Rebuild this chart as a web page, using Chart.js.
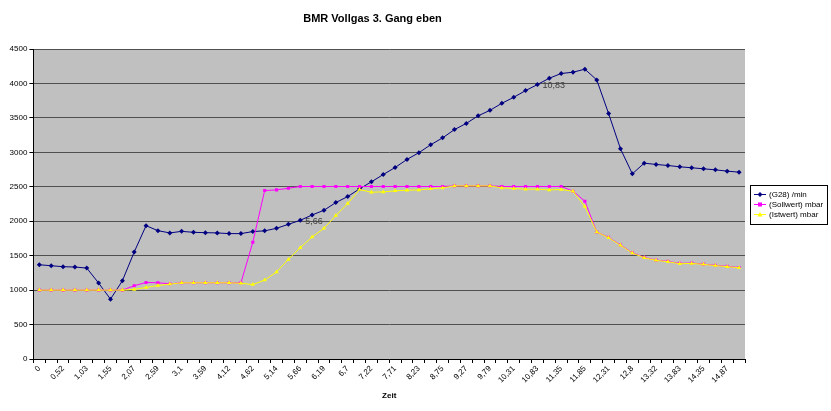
<!DOCTYPE html>
<html>
<head>
<meta charset="utf-8">
<script src="https://cdn.jsdelivr.net/npm/chart.js@4"></script>
<style>
  body { margin: 0; background: #fff; }
  #wrap { width: 831px; height: 411px; }
</style>
</head>
<body>
<div id="wrap"><canvas id="myChart" width="831" height="411"></canvas></div>
<script>
const tickLabels = ["0","0,52","1,03","1,55","2,07","2,59","3,1","3,59","4,12","4,62",
  "5,14","5,66","6,19","6,7","7,22","7,71","8,23","8,75","9,27","9,79",
  "10,31","10,83","11,35","11,85","12,31","12,8","13,32","13,83","14,35","14,87"];

// one point per half step, only every other one carries a label
const categories = tickLabels.flatMap(t => [t, ""]);

const g28 = [1368, 1354, 1340, 1335, 1320, 1102, 869, 1135, 1553, 1935,
  1863, 1830, 1853, 1839, 1834, 1830, 1820, 1820, 1850, 1860,
  1897, 1955, 2013, 2091, 2159, 2271, 2358, 2470, 2572, 2678,
  2780, 2897, 2994, 3110, 3210, 3330, 3420, 3530, 3610, 3712,
  3799, 3896, 3984, 4076, 4144, 4163, 4207, 4051, 3562, 3052,
  2688, 2843, 2824, 2809, 2790, 2776, 2761, 2746, 2727, 2712];

const sollwert = [1000, 1000, 1000, 1000, 1000, 1000, 1000, 1000, 1063, 1111,
  1106, 1092, 1106, 1106, 1106, 1106, 1106, 1106, 1695, 2445,
  2455, 2479, 2504, 2504, 2504, 2504, 2504, 2504, 2504, 2504,
  2504, 2504, 2504, 2504, 2504, 2513, 2513, 2513, 2513, 2504,
  2504, 2504, 2504, 2504, 2504, 2436, 2290, 1844, 1766, 1655,
  1543, 1475, 1436, 1417, 1388, 1393, 1378, 1360, 1344, 1329];

const istwert = [1000, 1000, 1000, 1000, 1000, 1000, 1000, 1000, 1010, 1038,
  1067, 1087, 1106, 1106, 1106, 1106, 1106, 1100, 1080, 1145,
  1262, 1446, 1616, 1771, 1897, 2082, 2256, 2460, 2421, 2426,
  2441, 2450, 2455, 2470, 2484, 2513, 2513, 2513, 2513, 2484,
  2475, 2465, 2465, 2455, 2460, 2436, 2212, 1844, 1760, 1650,
  1538, 1470, 1432, 1412, 1383, 1388, 1374, 1356, 1340, 1325];

const seriesNames = ["(G28) /min", "(Sollwert) mbar", "(Istwert) mbar"];
const yTicks = [0, 4500, 500];  // min, max, step

// data labels on the G28 line (show the category)
const labelledPoints = [22, 42];

const FONT = "'Liberation Sans', Arial, sans-serif";

const plotBg = {
  id: "plotBg",
  beforeDraw(chart) {
    const a = chart.chartArea, ctx = chart.ctx;
    ctx.save();
    ctx.fillStyle = "#c0c0c0";
    ctx.fillRect(a.left, a.top, a.right - a.left, a.bottom - a.top);
    ctx.restore();
  }
};

const pointLabels = {
  id: "pointLabels",
  afterDatasetsDraw(chart) {
    const ctx = chart.ctx;
    const meta = chart.getDatasetMeta(0);
    ctx.save();
    ctx.font = "9px " + FONT;
    ctx.fillStyle = "#404040";
    ctx.textBaseline = "middle";
    labelledPoints.forEach(i => {
      const p = meta.data[i];
      ctx.fillText(categories[i], p.x + 5, p.y + 1);
    });
    ctx.restore();
  }
};

function marker(ctx, style, x, y, color) {
  ctx.fillStyle = color;
  ctx.beginPath();
  if (style === "rectRot") {
    ctx.moveTo(x, y - 2.5); ctx.lineTo(x + 2.5, y); ctx.lineTo(x, y + 2.5); ctx.lineTo(x - 2.5, y);
  } else if (style === "rect") {
    ctx.rect(x - 2, y - 2, 4, 4);
  } else {
    ctx.moveTo(x, y - 2.5); ctx.lineTo(x + 2.5, y + 2); ctx.lineTo(x - 2.5, y + 2);
  }
  ctx.closePath();
  ctx.fill();
}

const boxLegend = {
  id: "boxLegend",
  afterDraw(chart) {
    const ctx = chart.ctx;
    const x0 = 750, y0 = 185, w = 77, h = 39;
    ctx.save();
    ctx.fillStyle = "#fff";
    ctx.fillRect(x0, y0, w, h);
    ctx.strokeStyle = "#000";
    ctx.lineWidth = 1;
    ctx.strokeRect(x0 + 0.5, y0 + 0.5, w, h);
    ctx.font = "8px " + FONT;
    ctx.textBaseline = "middle";
    chart.data.datasets.forEach((ds, i) => {
      const y = y0 + 9.5 + i * 10;
      ctx.strokeStyle = ds.borderColor;
      ctx.beginPath();
      ctx.moveTo(x0 + 4, y); ctx.lineTo(x0 + 16, y);
      ctx.stroke();
      marker(ctx, ds.pointStyle, x0 + 10, y, ds.pointBackgroundColor);
      ctx.fillStyle = "#000";
      ctx.fillText(ds.label, x0 + 19, y);
    });
    ctx.restore();
  }
};

const data = {
  labels: categories,
  datasets: [
    {
      label: seriesNames[0],
      data: g28,
      borderColor: "#000080",
      borderWidth: 1,
      pointStyle: "rectRot",
      pointRadius: 2.5,
      pointBackgroundColor: "#000080",
      pointBorderColor: "#000080",
      pointBorderWidth: 0,
      order: 3
    },
    {
      label: seriesNames[1],
      data: sollwert,
      borderColor: "#ff00ff",
      borderWidth: 1,
      pointStyle: "rect",
      pointRadius: 2.2,
      pointBackgroundColor: "#ff00ff",
      pointBorderColor: "#ff00ff",
      pointBorderWidth: 0,
      order: 2
    },
    {
      label: seriesNames[2],
      data: istwert,
      borderColor: "#ffff00",
      borderWidth: 1,
      pointStyle: "triangle",
      pointRadius: 2.5,
      pointBackgroundColor: "#ffff00",
      pointBorderColor: "#ffff00",
      pointBorderWidth: 0,
      order: 1
    }
  ]
};

const config = {
  type: "line",
  data: data,
  options: {
    responsive: false,
    animation: false,
    layout: { padding: { left: 0, right: 86, top: 0, bottom: 0 } },
    scales: {
      x: {
        offset: true,
        afterFit: (scale) => { scale.height = 52; },
        grid: {
          offset: true,
          drawOnChartArea: false,
          tickLength: 4,
          tickColor: "#000",
        },
        border: { color: "#000" },
        ticks: {
          autoSkip: false,
          minRotation: 45,
          maxRotation: 45,
          padding: 1,
          color: "#000",
          font: { family: FONT, size: 8 },
          callback: function (value, index) {
            return index % 2 ? "" : categories[index];
          }
        },
        title: {
          display: true,
          text: "Zeit",
          color: "#000",
          font: { family: FONT, size: 8, weight: "bold" },
          padding: { top: 0, bottom: 10.7 }
        }
      },
      y: {
        min: yTicks[0],
        max: yTicks[1],
        afterFit: (scale) => { scale.width = 33.4; },
        grid: {
          color: "#505050",
          tickLength: 4,
          tickColor: "#000"
        },
        border: { color: "#000" },
        ticks: {
          stepSize: yTicks[2],
          padding: 2,
          color: "#000",
          font: { family: FONT, size: 8 },
          callback: (value) => String(value)
        }
      }
    },
    plugins: {
      legend: { display: false },
      tooltip: { enabled: false },
      title: {
        display: true,
        text: "BMR Vollgas 3. Gang eben",
        color: "#000",
        font: { family: FONT, size: 11, weight: "bold" },
        padding: { top: 12.4, bottom: 23.4 }
      }
    }
  },
  plugins: [plotBg, pointLabels, boxLegend]
};

const myChart = new Chart(
  document.getElementById("myChart").getContext("2d"),
  config
);
</script>
</body>
</html>
